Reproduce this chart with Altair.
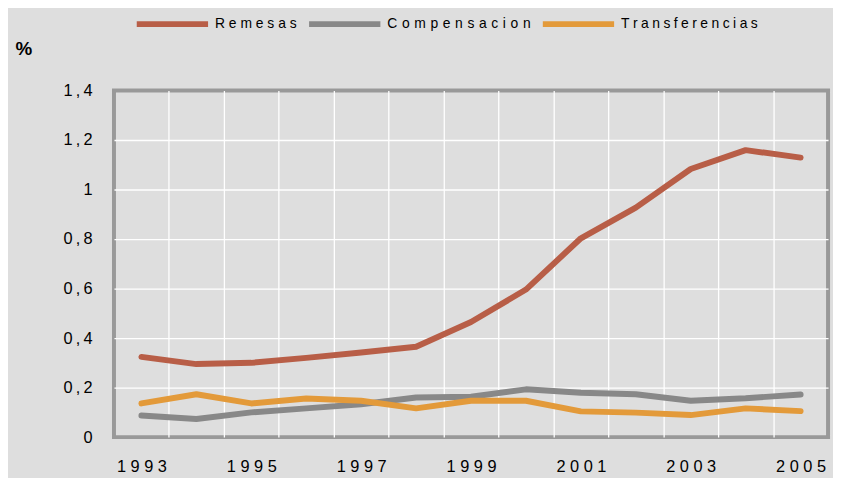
import altair as alt
import pandas as pd

years = [str(y) for y in range(1993, 2006)]
series_names = ["Remesas", "Compensacion", "Transferencias"]
remesas = [0.324, 0.295, 0.300, 0.320, 0.342, 0.365, 0.465, 0.596, 0.803, 0.927, 1.083, 1.159, 1.129]
compensacion = [0.087, 0.073, 0.100, 0.116, 0.133, 0.160, 0.163, 0.193, 0.179, 0.173, 0.147, 0.157, 0.172]
transferencias = [0.136, 0.173, 0.136, 0.156, 0.147, 0.116, 0.147, 0.147, 0.104, 0.099, 0.089, 0.116, 0.105]
colors = ["#b85e47", "#888888", "#e39a3a"]
y_ticks = [0, 0.2, 0.4, 0.6, 0.8, 1.0, 1.2, 1.4]

rows = []
for name, vals in zip(series_names, [remesas, compensacion, transferencias]):
    for yr, v in zip(years, vals):
        rows.append({"year": yr, "value": v, "serie": name})
df = pd.DataFrame(rows)

FONT = "Liberation Sans"
THIN = "\u2009"
WIDE = "\u2004"
MID = "\u2005"

legend_expr = (
    "join(split(datum.label, ''), datum.label == 'Compensacion' ? '" + WIDE + "' : "
    "(datum.label == 'Transferencias' ? '" + MID + "' : ' '))"
)

chart = alt.Chart(df).mark_line(strokeWidth=6, strokeCap="round", strokeJoin="round").encode(
    x=alt.X("year:O", bandPosition=0.5,
            scale=alt.Scale(type="band", paddingInner=0, paddingOuter=0),
            axis=alt.Axis(title=None, tickBand="extent", grid=True, ticks=False, tickSize=0,
                          domain=False, labelAngle=0, labelPadding=22, labelFontSize=16.5,
                          labelOverlap=False,
                          gridOpacity=alt.condition("datum.extra || datum.value == '2005'",
                                                    alt.value(0), alt.value(1)),
                          labelExpr="parseInt(datum.value) % 2 == 1 ? join(split(datum.value, ''), ' ') : ''")),
    y=alt.Y("value:Q",
            scale=alt.Scale(domain=[0, 1.4], nice=False),
            axis=alt.Axis(values=y_ticks, title="%", titleAngle=0, titleX=-100, titleY=-42,
                          titleAlign="left", titleBaseline="middle", titleFontSize=19,
                          titleFontWeight="bold", ticks=False, tickSize=0, domain=False,
                          labelPadding=22, labelFontSize=16.5, format="~g",
                          gridOpacity=alt.condition("datum.value <= 0 || datum.value >= 1.4",
                                                    alt.value(0), alt.value(1)),
                          labelExpr="join(split(replace(datum.label, '.', ','), ''), '" + THIN + "')")),
    color=alt.Color("serie:N", sort=series_names,
                    scale=alt.Scale(domain=series_names, range=colors),
                    legend=alt.Legend(title=None, orient="none", direction="horizontal",
                                      legendX=20, legendY=-106,
                                      symbolType="M-1,0H1", symbolSize=5184,
                                      symbolStrokeWidth=6, labelFontSize=14, labelOffset=4,
                                      columnPadding=0, labelLimit=300,
                                      labelExpr=legend_expr)),
).properties(
    width=721, height=350,
    autosize=alt.AutoSizeParams(type="none"),
    padding={"left": 107, "top": 81, "right": 5, "bottom": 39},
).configure(
    background="#dedede",
    font=FONT,
).configure_view(
    stroke="#999999", strokeWidth=4, fill="#dedede",
).configure_axis(
    gridColor="#ffffff", gridWidth=1.3,
    labelColor="#000000", titleColor="#000000", labelFont=FONT, titleFont=FONT,
).configure_legend(
    labelColor="#000000", labelFont=FONT,
)

chart.save("out.html", embed_options={"renderer": "svg", "actions": False})
